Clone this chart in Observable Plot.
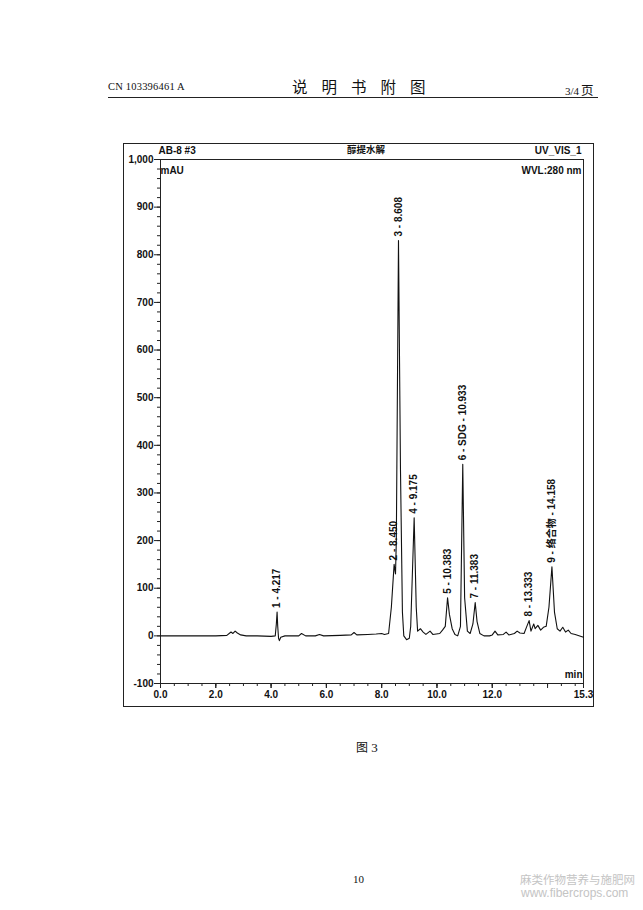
<!DOCTYPE html>
<html>
<head>
<meta charset="utf-8">
<script src="https://cdn.jsdelivr.net/npm/d3@7"></script>
<script src="https://cdn.jsdelivr.net/npm/@observablehq/plot@0.6"></script>
<style>
  html, body { margin: 0; padding: 0; background: #fff; }
  body { width: 643px; height: 910px; position: relative; overflow: hidden; font-family: "Liberation Serif", "DejaVu Serif", serif; color: #111; }
  .abs { position: absolute; white-space: nowrap; }
  #hdrline { position: absolute; left: 108px; top: 97px; width: 490px; height: 0; border-top: 1.5px solid #222; }
  #outer { position: absolute; left: 123px; top: 143px; width: 469px; height: 562px; border: 1.5px solid #222; pointer-events: none; }
  #chart { position: absolute; left: 123px; top: 143px; }
</style>
</head>
<body>
<div class="abs" style="left:108px; top:81px; font-size:10.5px; letter-spacing:0.2px;">CN 103396461 A</div>
<div class="abs" style="left:292px; top:75px; font-size:15.5px; font-family:'Noto Sans CJK SC'; letter-spacing:14px;">说明书附图</div>
<div class="abs" style="left:565px; top:80px; font-size:11px;">3/4<span style="font-family:'Noto Sans CJK SC'; font-size:12.5px; margin-left:2px;">页</span></div>
<div id="hdrline"></div>
<div id="chart"></div>
<div id="outer"></div>
<div class="abs" style="left:356px; top:738px; font-size:13px;"><span style="font-family:'Noto Sans CJK SC'; font-size:12px;">图</span> 3</div>
<div class="abs" style="left:353px; top:873px; font-size:11px;">10</div>
<div class="abs" style="left:520px; top:871px; font-size:11.5px; color:#c4c4c4; font-family:'Noto Sans CJK SC';">麻类作物营养与施肥网</div>
<div class="abs" style="left:521px; top:886px; font-size:12px; color:#c4c4c4; font-family:'Liberation Sans', sans-serif;">www.fibercrops.com</div>
<script>
// Chromatogram trace: retention time (min) and signal (mAU)
const traceTime = [0.0,0.5,1.0,1.5,2.0,2.4,2.55,2.62,2.7,2.78,2.9,3.1,3.5,4.0,4.15,4.19,4.217,4.24,4.27,4.3,4.35,4.5,5.0,5.1,5.25,5.6,5.75,5.9,6.5,6.9,7.0,7.1,7.5,7.8,8.0,8.1,8.25,8.35,8.45,8.5,8.53,8.608,8.68,8.75,8.8,8.9,9.0,9.05,9.175,9.25,9.3,9.4,9.5,9.6,9.75,9.85,10.1,10.2,10.3,10.383,10.45,10.55,10.65,10.75,10.85,10.933,11.0,11.1,11.2,11.3,11.383,11.45,11.55,11.7,11.9,12.0,12.1,12.2,12.4,12.5,12.6,12.8,12.9,13.0,13.15,13.25,13.333,13.4,13.5,13.55,13.65,13.75,13.85,13.95,14.05,14.158,14.25,14.35,14.45,14.55,14.65,14.75,14.85,15.0,15.3];
const traceMAU  = [0,0,0,0,0,1,8,5,10,6,2,0,0,-1,0,25,50,20,-5,-10,-3,0,0,5,0,0,3,0,1,2,7,2,3,4,5,3,5,60,150,130,200,830,350,50,0,-8,-5,20,248,60,10,15,8,3,10,3,5,12,20,80,45,15,3,0,20,360,80,10,5,25,70,30,5,0,0,2,10,2,3,8,2,5,10,6,5,20,32,10,25,15,22,12,18,20,60,145,50,15,10,18,8,12,5,3,-3];

// Peak annotations
const peakLabels = ["1 - 4.217","2 - 8.450","3 - 8.608","4 - 9.175","5 - 10.383","6 - SDG - 10.933","7 - 11.383","8 - 13.333","9 - 络合物 - 14.158"];
const peakTime   = [4.217, 8.45, 8.608, 9.175, 10.383, 10.933, 11.383, 13.333, 14.158];
const peakMAU    = [50, 150, 830, 248, 80, 360, 70, 32, 145];

// Axis ticks
const yMajorTicks = [-100,0,100,200,300,400,500,600,700,800,900,1000];
const yMinorTicks = d3.range(-100, 1001, 20);
const xLabelTicks = [0,2,4,6,8,10,12,15.3];
const xMajorTicks = [0,2,4,6,8,10,12,14];
const xMinorTicks = d3.range(0, 15.3, 0.5);

const trace = traceTime.map((t, i) => ({t, v: traceMAU[i]}));
const peaks = peakLabels.map((label, i) => ({label, t: peakTime[i], v: peakMAU[i]}));
const fmtY = d => d3.format(",")(d).replace("\u2212", "-");

const font = "'Liberation Sans', Arial, 'Noto Sans CJK SC', sans-serif";

const chart = Plot.plot({
  width: 471,
  height: 564,
  marginLeft: 37,
  marginRight: 11,
  marginTop: 16,
  marginBottom: 24,
  x: {domain: [0, 15.3]},
  y: {domain: [-100, 1000]},
  style: {fontFamily: font, fontSize: "10px", fontWeight: "bold", color: "#111", background: "transparent"},
  marks: [
    Plot.frame({stroke: "#222", strokeWidth: 1}),
    Plot.axisY(yMajorTicks, {tickSize: 6, tickPadding: 1, tickFormat: fmtY, label: null, stroke: "#222"}),
    Plot.axisY(yMinorTicks, {tickSize: 3, text: null, label: null, stroke: "#222"}),
    Plot.axisX(xLabelTicks, {tickSize: 5, tickPadding: 2, tickFormat: d => d.toFixed(1), label: null, stroke: "#222"}),
    Plot.axisX(xMajorTicks, {tickSize: 5, text: null, label: null, stroke: "#222"}),
    Plot.axisX(xMinorTicks, {tickSize: 3, text: null, label: null, stroke: "#222"}),
    Plot.line(trace, {x: "t", y: "v", stroke: "#111", strokeWidth: 1.1}),
    Plot.text(peaks, {x: "t", y: "v", text: "label", rotate: -90, textAnchor: "start", dy: -4, fontSize: 10, fill: "#111"}),
    Plot.text(["AB-8 #3"], {frameAnchor: "top-left", dx: -2, dy: -13, textAnchor: "start", fontSize: 10, fill: "#111"}),
    Plot.text(["mAU"], {frameAnchor: "top-left", dx: 0, dy: 7, textAnchor: "start", fontSize: 10, fill: "#111"}),
    Plot.text(["醇提水解"], {frameAnchor: "top", dx: -6, dy: -13, fontSize: 9.5, fill: "#111"}),
    Plot.text(["UV_VIS_1"], {frameAnchor: "top-right", dx: -2, dy: -13, textAnchor: "end", fontSize: 10, fill: "#111"}),
    Plot.text(["WVL:280 nm"], {frameAnchor: "top-right", dx: -2, dy: 7, textAnchor: "end", fontSize: 10, fill: "#111"}),
    Plot.text(["min"], {frameAnchor: "bottom-right", dx: -1, dy: -6, textAnchor: "end", fontSize: 10, fill: "#111"})
  ]
});
document.getElementById("chart").appendChild(chart);
</script>
</body>
</html>
